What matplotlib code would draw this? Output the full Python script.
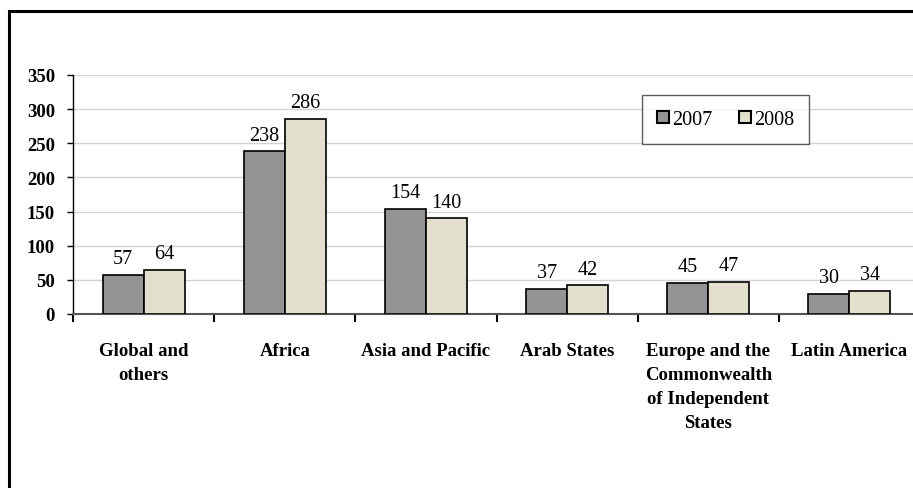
import numpy as np
import matplotlib
matplotlib.use("Agg")
import matplotlib.pyplot as plt
from matplotlib.patches import Rectangle

# --- data ---
regions = ['Global and\nothers', 'Africa', 'Asia and Pacific', 'Arab States',
           'Europe and the\nCommonwealth\nof Independent\nStates', 'Latin America']
values_2007 = [57, 238, 154, 37, 45, 30]
values_2008 = [64, 286, 140, 42, 47, 34]
years = ['2007', '2008']
y_ticks = [0, 50, 100, 150, 200, 250, 300, 350]

color_2007 = '#949494'
color_2008 = '#e2dfcc'

plt.rcParams['font.family'] = ['Liberation Serif', 'DejaVu Serif']

fig = plt.figure(figsize=(9.13, 4.89), dpi=100)
ax = fig.add_axes([73 / 913, 1 - 315 / 489, 847 / 913, (315 - 76) / 489])

x = np.arange(len(regions))
width = 0.29
bars_a = ax.bar(x - width / 2, values_2007, width, color=color_2007,
                edgecolor='black', linewidth=1.2, label=years[0], zorder=3)
bars_b = ax.bar(x + width / 2, values_2008, width, color=color_2008,
                edgecolor='black', linewidth=1.2, label=years[1], zorder=3)

# value labels above the bars
for bars, vals in ((bars_a, values_2007), (bars_b, values_2008)):
    for b, v in zip(bars, vals):
        ax.annotate(str(v), (b.get_x() + b.get_width() / 2, v),
                    xytext=(0, 8.5), textcoords='offset points',
                    ha='center', va='baseline', fontsize=14.5)

ax.set_xlim(-0.5, len(regions) - 0.5)
ax.set_ylim(0, 350)
ax.set_yticks(y_ticks)
ax.set_yticklabels([str(t) for t in y_ticks], fontsize=13.5, fontweight='bold')
ax.tick_params(axis='y', length=4, width=1, pad=9, direction='out')

# category boundaries as major ticks, names on minor ticks
ax.set_xticks(np.arange(len(regions) + 1) - 0.5)
ax.set_xticklabels([])
ax.set_xticks(x, minor=True)
ax.set_xticklabels(regions, minor=True, fontsize=13.5, fontweight='bold',
                   linespacing=1.55, va='top')
ax.tick_params(axis='x', which='major', length=6, width=1.5, direction='out')
ax.tick_params(axis='x', which='minor', length=0, pad=20)

ax.yaxis.grid(True, color='#d4d4d4', linewidth=1, zorder=0)
ax.set_axisbelow(True)
for side in ('top', 'right'):
    ax.spines[side].set_visible(False)
ax.spines['left'].set_color('black')
ax.spines['left'].set_linewidth(1)
ax.spines['bottom'].set_color('#555555')
ax.spines['bottom'].set_linewidth(1.5)
ax.spines['bottom'].set_clip_on(False)

leg = ax.legend(loc='upper left', bbox_to_anchor=(642 / 913, 1 - 96 / 489),
                bbox_transform=fig.transFigure, ncol=2, fontsize=14.5,
                frameon=True, fancybox=False, edgecolor='#333333',
                handlelength=0.6, handleheight=0.6, handletextpad=0.15,
                columnspacing=1.3, borderpad=0.75, borderaxespad=0)
leg.get_frame().set_linewidth(1)
for h in leg.legend_handles:
    h.set_linewidth(1.5)

# outer frame around the chart area
fig.add_artist(Rectangle((9 / 913, -0.1), 1.2, 1.1 - 12 / 489,
                         transform=fig.transFigure, fill=False,
                         edgecolor='black', linewidth=2.2))

fig.savefig('out.png', dpi=100)
